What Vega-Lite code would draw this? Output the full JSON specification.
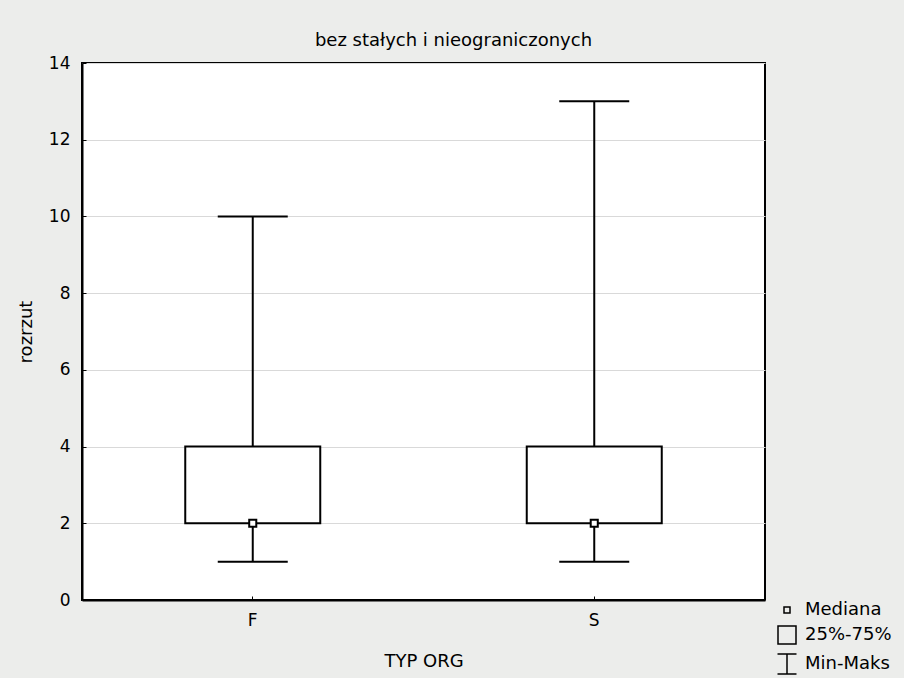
{
  "$schema": "https://vega.github.io/schema/vega-lite/v6.json",
  "autosize": {"type": "none"},
  "padding": {"left": 82, "top": 63, "right": 139, "bottom": 78},
  "width": 683,
  "height": 537,
  "background": "#ecedeb",
  "config": {
    "font": "DejaVu Sans",
    "view": {"fill": "white", "stroke": "black", "strokeWidth": 2},
    "axis": {"labelFont": "DejaVu Sans", "titleFont": "DejaVu Sans", "labelColor": "black", "titleColor": "black", "labelFontSize": 17, "titleFontSize": 18, "titleFontWeight": "normal", "domainColor": "black", "domainWidth": 2, "tickColor": "black"}
  },
  "title": {"text": "bez stałych i nieograniczonych", "font": "DejaVu Sans", "fontSize": 18, "fontWeight": "normal", "color": "black", "anchor": "middle", "dx": 30, "offset": 4},
  "data": {"values": [
    {"typ": "F", "min": 1, "q1": 2, "median": 2, "q3": 4, "max": 10},
    {"typ": "S", "min": 1, "q1": 2, "median": 2, "q3": 4, "max": 13}
  ]},
  "encoding": {
    "x": {"field": "typ", "type": "nominal", "title": "TYP ORG", "scale": {"domain": ["F", "S"], "paddingInner": 0, "paddingOuter": 0}, "axis": {"labelAngle": 0, "tickSize": -4, "labelPadding": 16, "titlePadding": 24, "grid": false}}
  },
  "layer": [
    {
      "mark": {"type": "rule", "color": "black", "strokeWidth": 2},
      "encoding": {
        "y": {"field": "min", "type": "quantitative", "title": "rozrzut", "scale": {"domain": [0, 14], "nice": false}, "axis": {"values": [0, 2, 4, 6, 8, 10, 12, 14], "tickSize": -4, "labelPadding": 16, "titlePadding": 13, "gridColor": "#d9d9d9", "gridWidth": 1}},
        "y2": {"field": "q1"}
      }
    },
    {
      "mark": {"type": "rule", "color": "black", "strokeWidth": 2},
      "encoding": {"y": {"field": "q3", "type": "quantitative"}, "y2": {"field": "max"}}
    },
    {
      "mark": {"type": "tick", "color": "black", "opacity": 1, "size": 70, "thickness": 2},
      "encoding": {"y": {"field": "min", "type": "quantitative"}}
    },
    {
      "mark": {"type": "tick", "color": "black", "opacity": 1, "size": 70, "thickness": 2},
      "encoding": {"y": {"field": "max", "type": "quantitative"}}
    },
    {
      "mark": {"type": "bar", "fill": "white", "stroke": "black", "strokeWidth": 2, "width": 135},
      "encoding": {"y": {"field": "q1", "type": "quantitative"}, "y2": {"field": "q3"}}
    },
    {
      "mark": {"type": "point", "shape": "square", "filled": true, "fill": "white", "stroke": "black", "strokeWidth": 2, "size": 50, "opacity": 1},
      "encoding": {"y": {"field": "median", "type": "quantitative"}}
    },
    {
      "data": {"values": [{"typ": "F", "item": "Mediana"}, {"typ": "F", "item": "25%-75%"}, {"typ": "F", "item": "Min-Maks"}]},
      "mark": {"type": "point", "opacity": 0, "size": 0},
      "encoding": {
        "shape": {
          "field": "item", "type": "nominal",
          "scale": {"domain": ["Mediana", "25%-75%", "Min-Maks"], "range": ["M-0.3,-0.3H0.3V0.3H-0.3Z", "M-0.9,-0.9H0.9V0.9H-0.9Z", "M-0.95,-1H0.95M0,-1V1M-0.95,1H0.95"]},
          "legend": {"title": null, "orient": "none", "legendX": 694, "legendY": 536, "padding": 0, "symbolSize": 400, "symbolOpacity": 1, "symbolFillColor": "white", "symbolStrokeColor": "black", "symbolStrokeWidth": 1.5, "labelFont": "DejaVu Sans", "labelFontSize": 18, "labelColor": "black", "labelOffset": 7, "rowPadding": 4, "encode": {"symbols": {"update": {"opacity": {"value": 1}, "fill": {"value": "white"}, "stroke": {"value": "black"}}}}}
        }
      }
    }
  ]
}
